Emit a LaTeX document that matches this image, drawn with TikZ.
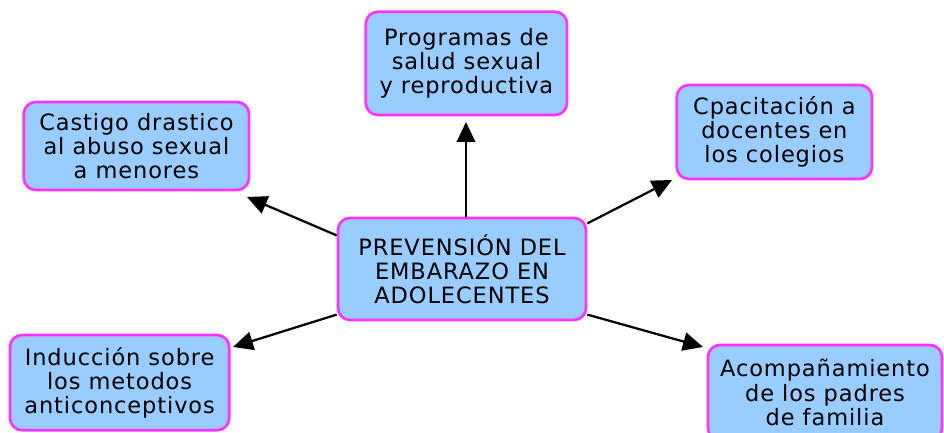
\documentclass[tikz,border=0pt]{standalone}
\usepackage{fontspec}
\setmainfont[LetterSpace=4]{DejaVu Sans}
\usetikzlibrary{arrows.meta}

\definecolor{boxfill}{RGB}{153,204,255}
\definecolor{boxline}{RGB}{255,51,255}

\tikzset{
	idea/.style={draw=boxline, fill=boxfill, line width=1.9pt, rounded corners=0.3cm,
		align=center, inner sep=0pt, font=\fontsize{16}{17.2}\selectfont},
	arr/.style={line width=1.6pt, -{Triangle[length=5mm, width=4.6mm]}}
}

\begin{document}
\begin{tikzpicture}
			\useasboundingbox (0,0) rectangle (23.6,10.825);
			\node[idea, minimum width=6.2cm,  minimum height=2.55cm] (prevencion) at (11.55, 4.1)   {PREVENSIÓN DEL\\EMBARAZO EN\\ADOLECENTES};
			\node[idea, minimum width=5.03cm, minimum height=2.58cm] (programas)  at (11.66, 9.24)  {Programas de\\salud sexual\\y reproductiva};
			\node[idea, minimum width=5.63cm, minimum height=2.2cm]  (castigo)    at (3.41,  7.175) {Castigo drastico\\al abuso sexual\\a menores};
			\node[idea, minimum width=4.88cm, minimum height=2.35cm] (docentes)   at (19.36, 7.525) {Cpacitación a\\docentes en\\los colegios};
			\node[idea, minimum width=5.48cm, minimum height=2.38cm] (induccion)  at (2.99,  1.26)  {Inducción sobre\\los metodos\\anticonceptivos};
			\node[idea, minimum width=5.85cm, minimum height=2.38cm] (padres)     at (20.625, 1.01) {Acompañamiento\\de los padres\\de familia};
			\coordinate (tipProgramas) at (11.65, 7.775);
			\coordinate (tipCastigo)   at (6.175, 5.9);
			\coordinate (tipDocentes)  at (16.8,  6.325);
			\coordinate (tipInduccion) at (5.825, 2.15);
			\coordinate (tipPadres)    at (17.575, 2.15);
			\draw[arr] (prevencion.north -| tipProgramas) -- (tipProgramas);
			\draw[arr] (prevencion.165) -- (tipCastigo);
			\draw[arr] (prevencion.20)  -- (tipDocentes);
			\draw[arr] (prevencion.200) -- (tipInduccion);
			\draw[arr] (prevencion.340) -- (tipPadres);
		\end{tikzpicture}
\end{document}
